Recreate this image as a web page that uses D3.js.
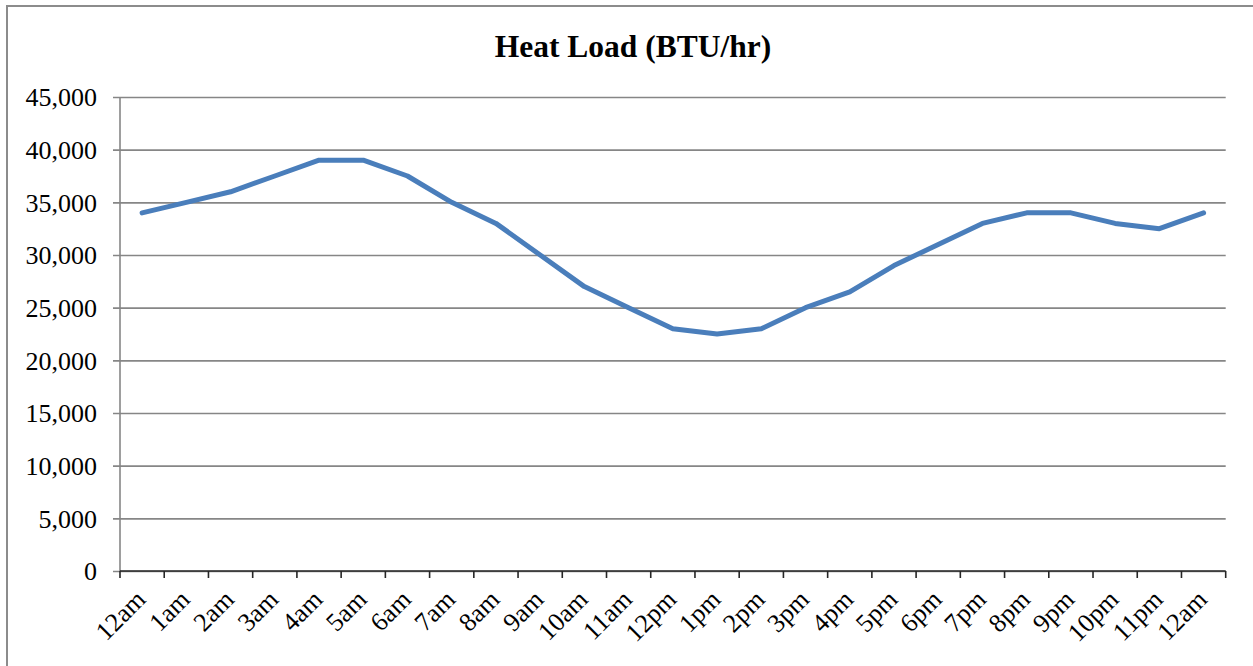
<!DOCTYPE html>
<html>
<head>
<meta charset="utf-8">
<script src="https://cdn.jsdelivr.net/npm/d3@7"></script>
<style>
  body { margin: 0; background: #fff; }
  svg { display: block; font-family: "Liberation Serif", "Times New Roman", serif; }
</style>
</head>
<body>
<div id="chart-area"></div>
<script>
// hours along the x axis
const hours = ["12am", "1am", "2am", "3am", "4am", "5am", "6am", "7am", "8am", "9am",
  "10am", "11am", "12pm", "1pm", "2pm", "3pm", "4pm", "5pm", "6pm", "7pm",
  "8pm", "9pm", "10pm", "11pm", "12am "]
// heat load per hour (BTU/hr)
const heatLoad = [34000, 35000, 36000, 37500, 39000, 39000, 37500, 35000, 33000, 30000,
  27000, 25000, 23000, 22500, 23000, 25000, 26500, 29000, 31000, 33000,
  34000, 34000, 33000, 32500, 34000]
const yTicks = [0, 5000, 10000, 15000, 20000, 25000, 30000, 35000, 40000, 45000]
const title = "Heat Load (BTU/hr)"

const W = 1253, H = 666
const MARGIN = { LEFT: 120, RIGHT: 27.3, TOP: 97, BOTTOM: 95 }
const WIDTH = W - MARGIN.LEFT - MARGIN.RIGHT
const HEIGHT = H - MARGIN.TOP - MARGIN.BOTTOM

const svg = d3.select("#chart-area").append("svg")
  .attr("width", W)
  .attr("height", H)

// outer frame (runs off the right and bottom edges)
svg.append("rect")
  .attr("x", 7).attr("y", 6)
  .attr("width", 1400).attr("height", 800)
  .attr("fill", "none")
  .attr("stroke", "#8c8c8c")
  .attr("stroke-width", 2)

svg.append("text")
  .attr("x", 633)
  .attr("y", 57)
  .attr("text-anchor", "middle")
  .attr("font-size", 31.5)
  .attr("font-weight", "bold")
  .attr("fill", "#000")
  .text(title)

const g = svg.append("g")
  .attr("transform", `translate(${MARGIN.LEFT}, ${MARGIN.TOP})`)

// scales
const x = d3.scaleBand().domain(hours).range([0, WIDTH]).padding(0)
const y = d3.scaleLinear().domain([0, 45000]).range([HEIGHT, 0])

// gridlines + y axis labels
const yAxis = g.append("g")
  .call(d3.axisLeft(y)
    .tickValues(yTicks)
    .tickFormat(d3.format(","))
    .tickSize(-WIDTH - 7)
    .tickPadding(23))
yAxis.select(".domain").remove()
yAxis.selectAll(".tick line")
  .attr("x1", -7).attr("x2", WIDTH)
  .attr("stroke", "#868686")
  .attr("stroke-width", 1.6)
yAxis.selectAll(".tick text")
  .attr("font-size", 26)
  .attr("font-family", "Liberation Serif, Times New Roman, serif")
  .attr("fill", "#000")
  .attr("dy", "0.34em")

// y axis line
g.append("line")
  .attr("x1", 0).attr("x2", 0)
  .attr("y1", 0).attr("y2", HEIGHT)
  .attr("stroke", "#868686")
  .attr("stroke-width", 1.6)

// x axis line and boundary ticks
const xAxis = g.append("g").attr("transform", `translate(0, ${HEIGHT})`)
xAxis.append("line")
  .attr("x1", 0).attr("x2", WIDTH)
  .attr("stroke", "#262626")
  .attr("stroke-width", 1.6)
xAxis.selectAll(".bound")
  .data(hours.map(h => x(h)).concat([WIDTH]))
  .enter().append("line")
  .attr("class", "bound")
  .attr("x1", d => d).attr("x2", d => d)
  .attr("y1", 0).attr("y2", 7)
  .attr("stroke", "#262626")
  .attr("stroke-width", 1.6)

xAxis.selectAll(".xlab")
  .data(hours)
  .enter().append("text")
  .attr("class", "xlab")
  .attr("transform", d => `translate(${x(d) + x.bandwidth() / 2 + 5}, 30) rotate(-45)`)
  .attr("text-anchor", "end")
  .attr("font-size", 26)
  .attr("fill", "#000")
  .text(d => d.trim())

// line path
const line = d3.line()
  .x((d, i) => x(hours[i]) + x.bandwidth() / 2)
  .y(d => y(d))

g.append("path")
  .attr("fill", "none")
  .attr("stroke", "#4A7EBB")
  .attr("stroke-width", 5)
  .attr("stroke-linejoin", "round")
  .attr("stroke-linecap", "round")
  .attr("d", line(heatLoad))
</script>
</body>
</html>
